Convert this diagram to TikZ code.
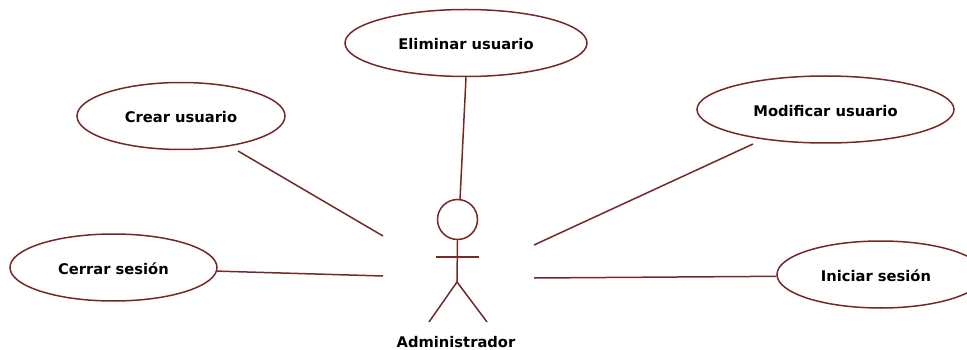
\documentclass[tikz,border=0pt]{standalone}
\usepackage{fontspec}
\setmainfont{DejaVu Sans}
\usetikzlibrary{shapes.geometric}
\definecolor{linecol}{RGB}{116,40,40}
\newcommand{\uctext}[1]{\smash{\raisebox{-7pt}{#1}}}
\tikzstyle{usecase} = [ellipse, draw=linecol, line width=1.5pt, inner sep=0pt, minimum height=67pt, font=\bfseries\fontsize{14.7}{17}\selectfont]
\tikzstyle{link} = [draw=linecol, line width=1.5pt]
\begin{document}
\begin{tikzpicture}[x=1pt,y=-1pt]
\useasboundingbox (0,0) rectangle (967,350);
\node[usecase, minimum width=242pt] (eliminar) at (466,43) {\uctext{Eliminar usuario}};
\node[usecase, minimum width=208pt] (crear) at (181,116) {\uctext{Crear usuario}};
\node[usecase, minimum width=257pt] (modificar) at (825.5,109.5) {\uctext{Modificar usuario}};
\node[usecase, minimum width=207pt] (cerrar) at (113.5,267.5) {\uctext{Cerrar sesión}};
\node[usecase, minimum width=207pt] (iniciar) at (880.5,274.5) {\uctext{\hspace*{-9pt}Iniciar sesión}};
% actor
\node[circle, draw=linecol, line width=1.5pt, minimum size=40pt, inner sep=0pt] (head) at (457.5,219.5) {};
\coordinate (hip) at (457,282);
\coordinate (armL) at (436,257);
\coordinate (armR) at (479,257);
\coordinate (footL) at (429,322);
\coordinate (footR) at (487,322);
\draw[link] (head.south) -- (hip);
\draw[link] (armL) -- (armR);
\draw[link] (footL) -- (hip) -- (footR);
\node[font=\bfseries\fontsize{14.7}{17}\selectfont] (admin) at (456,342) {Administrador};
% connectors
\coordinate (startC) at (238,151);
\coordinate (startM) at (753,144);
\coordinate (endE) at (460,200);
\coordinate (endC) at (383,236);
\coordinate (endM) at (534,245);
\coordinate (endS) at (383,276);
\coordinate (endI) at (534,278);
\draw[link] (eliminar.south) -- (endE);
\draw[link] (startC) -- (endC);
\draw[link] (startM) -- (endM);
\draw[link] (cerrar.-2) -- (endS);
\draw[link] (iniciar.181) -- (endI);
\end{tikzpicture}
\end{document}
